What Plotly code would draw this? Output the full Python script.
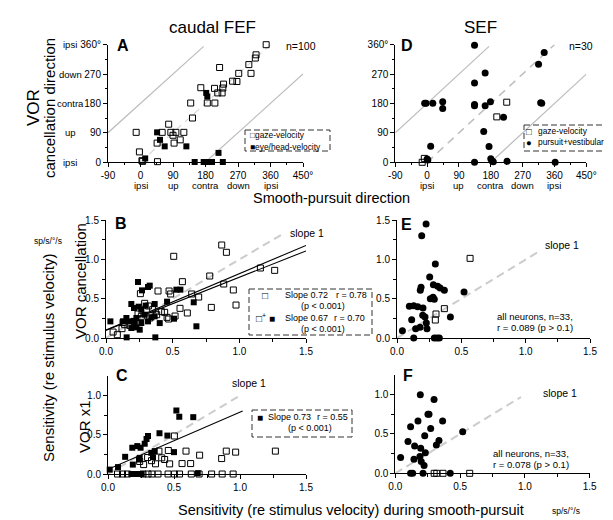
import plotly.graph_objects as go

W, H = 613, 520
FONT = "Liberation Sans, Arial, Helvetica, sans-serif"

# ---------------- panel A : caudal FEF, preferred directions (deg)
a_gaze_x = [-12, -3, 4, 6, 47, 46, 60, 78, 84, 90, 98, 120, 93, 110, 139, 144, 167, 185, 205, 206,
            219, 214, 226, 228, 230, 255, 267, 272, 306, 300, 318, 320, 348]
a_gaze_y = [91, 31, 4, 2, 1, 58, 91, 116, 91, 82, 91, 91, 58, 68, 181, 135, 228, 181, 226, 181,
            290, 212, 212, 227, 239, 248, 247, 272, 272, 299, 319, 329, 360]
a_eh_x = [46, 54, 67, 127, 13, 182, 185, 150, 175, 187, 198, 216, 228]
a_eh_y = [91, 68, 48, 48, 11, 212, 201, 0, 0, 0, 0, 28, 0]

# ---------------- panel D : SEF, preferred directions (deg)
d_gaze_x = [225, 197, -8, -14]
d_gaze_y = [184, 139, 12, 0]
d_pv_x = [134, 331, 315, 164, 134, -7, -3, 16, 44, 44, 134, 134, 164, 179, 321, 324, 216, 160,
          10, 175, 0, 2, 134, 180, 183, 187, 226, 362]
d_pv_y = [358, 336, 300, 273, 243, 181, 181, 181, 185, 165, 177, 173, 173, 185, 182, 181, 138, 94,
          49, 48, 10, 7, 0, 11, 5, 2, 3, 0]

# guide lines for direction panels
dir_upper_x = [-90, 175]
dir_upper_y = [90, 355]
dir_lower_x = [180, 450]
dir_lower_y = [0, 270]
dir_unity_x = [0, 360]
dir_unity_y = [0, 360]

dir_ticks = [-90, 0, 90, 180, 270, 360, 450]
dir_ticktext = ["-90", "0", "90", "180", "270", "360", "450°"]
dir_yticks = [0, 90, 180, 270, 360]
dir_yticktext = ["0", "90", "180", "270", "360°"]
dir_words = ["ipsi", "up", "contra", "down", "ipsi"]
dir_word_pos = [0, 90, 180, 270, 360]

# ---------------- panel B : caudal FEF, VOR cancellation vs pursuit sensitivity
b_gaze_x = [0.868, 0.903, 0.508, 1.158, 1.265, 0.778, 0.883, 0.573, 0.39, 0.473, 0.485, 0.643,
            0.695, 0.955, 0.975, 0.79, 0.555, 0.61, 0.518, 0.47, 0.258, 0.29, 0.318, 0.35, 0.38,
            0.415, 0.44, 0.458, 0.328, 0.24, 0.21, 0.178, 0.14, 0.12, 0.085, 0.128, 0.265, 0.053]
b_gaze_y = [1.185, 1.092, 1.041, 0.892, 0.862, 0.79, 0.688, 0.718, 0.599, 0.599, 0.561, 0.561,
            0.522, 0.612, 0.42, 0.39, 0.378, 0.319, 0.28, 0.242, 0.565, 0.442, 0.408, 0.361, 0.297,
            0.336, 0.327, 0.263, 0.255, 0.306, 0.212, 0.161, 0.17, 0.119, 0.042, 0.2, 0.276, 0.076]
b_eh_x = [0.24, 0.315, 0.27, 0.328, 0.528, 0.558, 0.458, 0.658, 0.678, 0.033, 0.155, 0.37, 0.51,
          0.403, 0.365, 0.298, 0.19, 0.21, 0.228, 0.245, 0.265, 0.29, 0.315, 0.34, 0.19, 0.228,
          0.253, 0.153, 0.128, 0.178, 0.215, 0.265, 0.365]
b_eh_y = [0.714, 0.65, 0.607, 0.667, 0.616, 0.616, 0.463, 0.455, 0.149, 0.212, 0.008, 0.008, 0.246,
          0.19, 0.433, 0.412, 0.433, 0.382, 0.255, 0.399, 0.361, 0.297, 0.212, 0.263, 0.127, 0.136,
          0.106, 0.255, 0.212, 0.212, 0.191, 0.191, 0.276]
b_fit1_x = [0, 1.5]
b_fit1_y = [0.10, 1.18]
b_fit2_x = [0, 1.5]
b_fit2_y = [0.10, 1.11]
b_unity_x = [0, 1.33]
b_unity_y = [0, 1.33]

# ---------------- panel E : SEF, VOR cancellation vs pursuit sensitivity
e_pv_x = [0.226, 0.192, 0.298, 0.254, 0.181, 0.187, 0.283, 0.316, 0.335, 0.368, 0.259, 0.28, 0.29,
          0.521, 0.096, 0.13, 0.161, 0.202, 0.2, 0.218, 0.415, 0.114, 0.228, 0.179, 0.233, 0.145,
          0.042, 0.13, 0.29, 0.311, 0.329]
e_pv_y = [1.453, 1.304, 0.943, 0.777, 0.607, 0.646, 0.68, 0.658, 0.637, 0.607, 0.501, 0.518, 0.493,
          0.586, 0.404, 0.412, 0.399, 0.382, 0.289, 0.268, 0.268, 0.234, 0.191, 0.136, 0.119, 0.119,
          0.093, 0.0, 0.0, 0.0, 0.0]
e_gaze_x = [0.568, 0.368, 0.303, 0.298]
e_gaze_y = [1.015, 0.374, 0.306, 0.229]
e_unity_x = [0, 1.12]
e_unity_y = [0, 1.12]

# ---------------- panel C : caudal FEF, VOR x1 vs pursuit sensitivity
c_eh_x = [0.646, 0.518, 0.54, 0.39, 0.45, 0.303, 0.292, 0.278, 0.184, 0.222, 0.247, 0.13, 0.24,
          0.328, 0.354, 0.341, 0.235, 0.188, 0.076, 0.013, 0.5, 0.68, 0.177, 0.2, 0.227, 0.253]
c_eh_y = [0.725, 0.81, 0.73, 0.52, 0.49, 0.485, 0.446, 0.386, 0.335, 0.356, 0.335, 0.219, 0.206,
          0.27, 0.292, 0.215, 0.185, 0.12, 0.088, 0.056, 0.279, 0.01, 0.0, 0.0, 0.0, 0.0]
c_gaze_x = [0.503, 0.591, 0.694, 0.896, 0.967, 0.861, 1.268, 0.457, 0.386, 0.407, 0.429, 0.467,
            0.561, 0.626, 0.3, 0.33, 0.36, 0.27, 0.24,
            0.072, 0.11, 0.148, 0.265, 0.303, 0.333, 0.379, 0.455, 0.503, 0.542, 0.631, 0.69,
            0.785, 0.865, 0.948]
c_gaze_y = [0.485, 0.292, 0.24, 0.292, 0.279, 0.197, 0.292, 0.3, 0.292, 0.206, 0.185, 0.129,
            0.133, 0.133, 0.21, 0.17, 0.13, 0.12, 0.16,
            0, 0, 0, 0, 0, 0, 0, 0, 0, 0, 0, 0, 0, 0, 0]
c_fit_x = [0, 1.02]
c_fit_y = [0.06, 0.805]
c_unity_x = [0, 1.0]
c_unity_y = [0, 1.0]

# ---------------- panel F : SEF, VOR x1 vs pursuit sensitivity
f_pv_x = [0.193, 0.299, 0.252, 0.26, 0.175, 0.365, 0.118, 0.273, 0.52, 0.227, 0.098, 0.337, 0.317,
          0.149, 0.196, 0.041, 0.232, 0.19, 0.144, 0.2, 0.222, 0.118, 0.134, 0.214, 0.424]
f_pv_y = [1.0, 0.94, 0.752, 0.752, 0.664, 0.664, 0.592, 0.571, 0.529, 0.479, 0.403, 0.416, 0.361,
          0.348, 0.319, 0.201, 0.26, 0.214, 0.18, 0.151, 0.1, 0.0, 0.0, 0.0, 0.0]
f_gaze_x = [0.3, 0.32, 0.368, 0.574]
f_gaze_y = [0, 0, 0, 0]
f_unity_x = [0, 0.97]
f_unity_y = [0, 0.97]

sens_ticks = [0, 0.5, 1.0, 1.5]
sens_ticktext = ["0.0", "0.5", "1.0", "1.5"]
sens_minor = [0.25, 0.75, 1.25]


def px(x):
    return x / W


def py(y):
    return 1 - y / H


fig = go.Figure()

OPEN_SQ = dict(symbol="square-open", size=6, color="black", line=dict(width=1, color="black"))
FILL_SQ = dict(symbol="square", size=6, color="black", line=dict(width=0))
FILL_CI = dict(symbol="circle", size=7, color="black", line=dict(width=0))
GREY = "#bdbdbd"


def line(xs, ys, ax, color=GREY, width=1.2, dash="solid"):
    fig.add_trace(go.Scatter(x=xs, y=ys, xaxis="x" + ax, yaxis="y" + ax, mode="lines",
                             line=dict(color=color, width=width, dash=dash),
                             showlegend=False, hoverinfo="skip", cliponaxis=False))


def pts(xs, ys, ax, marker):
    fig.add_trace(go.Scatter(x=xs, y=ys, xaxis="x" + ax, yaxis="y" + ax, mode="markers",
                             marker=marker, showlegend=False, cliponaxis=False))


# A (axes 1)
line(dir_upper_x, dir_upper_y, "")
line(dir_lower_x, dir_lower_y, "")
line(dir_unity_x, dir_unity_y, "", color="#d8d8d8", width=1.2, dash="7px,5px")
pts(a_gaze_x, a_gaze_y, "", OPEN_SQ)
pts(a_eh_x, a_eh_y, "", FILL_SQ)

# D (axes 2)
line(dir_upper_x, dir_upper_y, "2")
line(dir_lower_x, dir_lower_y, "2")
line(dir_unity_x, dir_unity_y, "2", color=GREY, width=1.5, dash="8px,6px")
pts(d_pv_x, d_pv_y, "2", FILL_CI)
pts(d_gaze_x, d_gaze_y, "2", OPEN_SQ)

# B (axes 3)
line(b_unity_x, b_unity_y, "3", color="#cccccc", width=2, dash="8px,5px")
pts(b_gaze_x, b_gaze_y, "3", OPEN_SQ)
pts(b_eh_x, b_eh_y, "3", FILL_SQ)
line(b_fit1_x, b_fit1_y, "3", color="black", width=1.1)
line(b_fit2_x, b_fit2_y, "3", color="black", width=1.1)

# E (axes 4)
line(e_unity_x, e_unity_y, "4", color="#cccccc", width=2, dash="8px,5px")
pts(e_pv_x, e_pv_y, "4", FILL_CI)
pts(e_gaze_x, e_gaze_y, "4", OPEN_SQ)

# C (axes 5)
line(c_unity_x, c_unity_y, "5", color="#cccccc", width=2, dash="8px,5px")
pts(c_gaze_x, c_gaze_y, "5", OPEN_SQ)
pts(c_eh_x, c_eh_y, "5", FILL_SQ)
line(c_fit_x, c_fit_y, "5", color="black", width=1.1)

# F (axes 6)
line(f_unity_x, f_unity_y, "6", color="#cccccc", width=2, dash="8px,5px")
pts(f_pv_x, f_pv_y, "6", FILL_CI)
pts(f_gaze_x, f_gaze_y, "6", OPEN_SQ)


def ax_style(**kw):
    d = dict(showline=True, linecolor="black", linewidth=1, ticks="outside", ticklen=4,
             tickwidth=1, tickcolor="black", showgrid=False, zeroline=False,
             tickfont=dict(family=FONT, size=10, color="black"), automargin=False,
             fixedrange=True)
    d.update(kw)
    return d


def dir_x(domain, anchor):
    return ax_style(domain=domain, anchor=anchor, range=[-90, 450], tickvals=dir_ticks,
                    ticktext=dir_ticktext,
                    minor=dict(tickvals=[-45, 45, 135, 225, 315, 405], ticklen=2, ticks="outside",
                               tickcolor="black"))


def dir_y(domain, anchor):
    return ax_style(domain=domain, anchor=anchor, range=[0, 360], tickvals=dir_yticks,
                    ticktext=dir_yticktext,
                    minor=dict(tickvals=[45, 135, 225, 315], ticklen=2, ticks="outside",
                               tickcolor="black"))


def sens_x(domain, anchor):
    return ax_style(domain=domain, anchor=anchor, range=[0, 1.5], tickvals=sens_ticks,
                    ticktext=sens_ticktext,
                    minor=dict(tickvals=sens_minor, ticklen=3, ticks="outside", tickcolor="black"))


def sens_y(domain, anchor, top):
    tv = [t for t in sens_ticks if t <= top]
    return ax_style(domain=domain, anchor=anchor, range=[0, top], tickvals=tv,
                    ticktext=sens_ticktext[:len(tv)],
                    minor=dict(tickvals=[m for m in sens_minor if m < top], ticklen=3,
                               ticks="outside", tickcolor="black"))


fig.update_layout(
    xaxis=dir_x([px(100), px(295)], "y"),
    yaxis=dir_y([py(154), py(36.7)], "x"),
    xaxis2=dir_x([px(387.3), px(578.3)], "y2"),
    yaxis2=dir_y([py(154.3), py(36.7)], "x2"),
    xaxis3=sens_x([px(98), px(298)], "y3"),
    yaxis3=sens_y([py(330), py(212.3)], "x3", 1.5),
    xaxis4=sens_x([px(389), px(582)], "y4"),
    yaxis4=sens_y([py(330), py(212.3)], "x4", 1.5),
    xaxis5=sens_x([px(100), px(298)], "y5"),
    yaxis5=sens_y([py(466), py(368)], "x5", 1.25),
    xaxis6=sens_x([px(387.3), px(581.7)], "y6"),
    yaxis6=sens_y([py(465.3), py(367)], "x6", 1.25),
)

ann = []


def txt(x, y, s, size=10, xanchor="center", angle=0, bold=False, xref="paper", yref="paper"):
    if xref == "paper":
        x = px(x)
    if yref == "paper":
        y = py(y)
    ann.append(dict(x=x, y=y, xref=xref, yref=yref, text=("<b>%s</b>" % s) if bold else s,
                    showarrow=False, xanchor=xanchor, yanchor="middle", textangle=angle,
                    font=dict(family=FONT, size=size, color="black")))


# titles
txt(204, 20, "caudal FEF", 17)
txt(472, 20, "SEF", 17)
txt(26, 100, "VOR", 17, angle=-90)
txt(42, 100, "cancellation direction", 15, angle=-90)
txt(323, 190, "Smooth-pursuit direction", 14.5)

# direction words
for w, v in zip(dir_words, dir_word_pos):
    txt(v, 177, w, 9.5, xref="x")
    txt(v, 177, w, 9.5, xref="x2")
    txt(62, v, w, 9.5, yref="y")

# panel letters
txt(115, 38, "A", 16, bold=True)
txt(399, 38, "D", 16, bold=True)
txt(113, 215, "B", 16, bold=True)
txt(398, 216, "E", 16, bold=True)
txt(114, 367, "C", 16, bold=True)
txt(400, 367, "F", 16, bold=True)

txt(310, 38, "n=100", 10.5, xanchor="right")
txt(587, 38, "n=30", 10.5, xanchor="right")

# legends of direction panels
txt(240, 127, "□gaze-velocity", 8.4, xanchor="left")
txt(240, 139, "■eye/head-velocity", 8.4, xanchor="left")
txt(521, 123, "□", 9.5)
txt(528, 123, "gaze-velocity", 8.4, xanchor="left")
txt(521, 134, "●", 9.5)
txt(528, 134, "pursuit+vestibular", 8.4, xanchor="left")

# sensitivity labels
txt(40, 350, "Sensitivity (re stimulus velocity)", 15, angle=-90)
txt(40, 233, "sp/s/°/s", 8.5)
txt(72, 273, "VOR cancellation", 15, angle=-90)
txt(76, 419, "VOR x1", 15, angle=-90)
txt(343, 502, "Sensitivity (re stimulus velocity) during smooth-pursuit", 14.5)
txt(558, 503, "sp/s/°/s", 8.5)

txt(280, 225, "slope 1", 10.5, xanchor="left")
txt(535, 237, "slope 1", 10.5, xanchor="left")
txt(222, 375, "slope 1", 10.5, xanchor="left")
txt(533, 385, "slope 1", 10.5, xanchor="left")

txt(567, 308, "all neurons, n=33,", 9.5, xanchor="right")
txt(567, 319, "r = 0.089 (p > 0.1)", 9.5, xanchor="right")
txt(563, 445, "all neurons, n=33,", 9.5, xanchor="right")
txt(563, 456, "r = 0.078 (p > 0.1)", 9.5, xanchor="right")

# B legend
txt(257, 287, "□", 10)
txt(275, 287, "Slope 0.72", 9, xanchor="left")
txt(326, 287, "r = 0.78", 9, xanchor="left")
txt(315, 298, "(p < 0.001)", 9)
txt(246, 310, "□<sup>+</sup> ■", 10, xanchor="left")
txt(275, 310, "Slope 0.67", 9, xanchor="left")
txt(324, 310, "r = 0.70", 9, xanchor="left")
txt(315, 321, "(p < 0.001)", 9)

# C legend
txt(247, 409, "■", 10, xanchor="left")
txt(258, 409, "Slope 0.73", 9, xanchor="left")
txt(307, 409, "r = 0.55", 9, xanchor="left")
txt(302, 420, "(p < 0.001)", 9)

shapes = []
for x0, y0, x1, y1 in [(237, 122, 322, 143), (516, 117, 605, 143),
                       (241, 281, 364, 327), (244, 402, 344, 429)]:
    shapes.append(dict(type="rect", xref="paper", yref="paper", x0=px(x0), x1=px(x1),
                       y0=py(y0), y1=py(y1), line=dict(color="#333333", width=1, dash="6px,3px")))

fig.update_layout(
    template="none",
    width=W, height=H,
    margin=dict(l=0, r=0, t=0, b=0),
    paper_bgcolor="white", plot_bgcolor="white",
    showlegend=False,
    annotations=ann,
    shapes=shapes,
    font=dict(family=FONT, color="black"),
)

fig.write_html("out.html")
